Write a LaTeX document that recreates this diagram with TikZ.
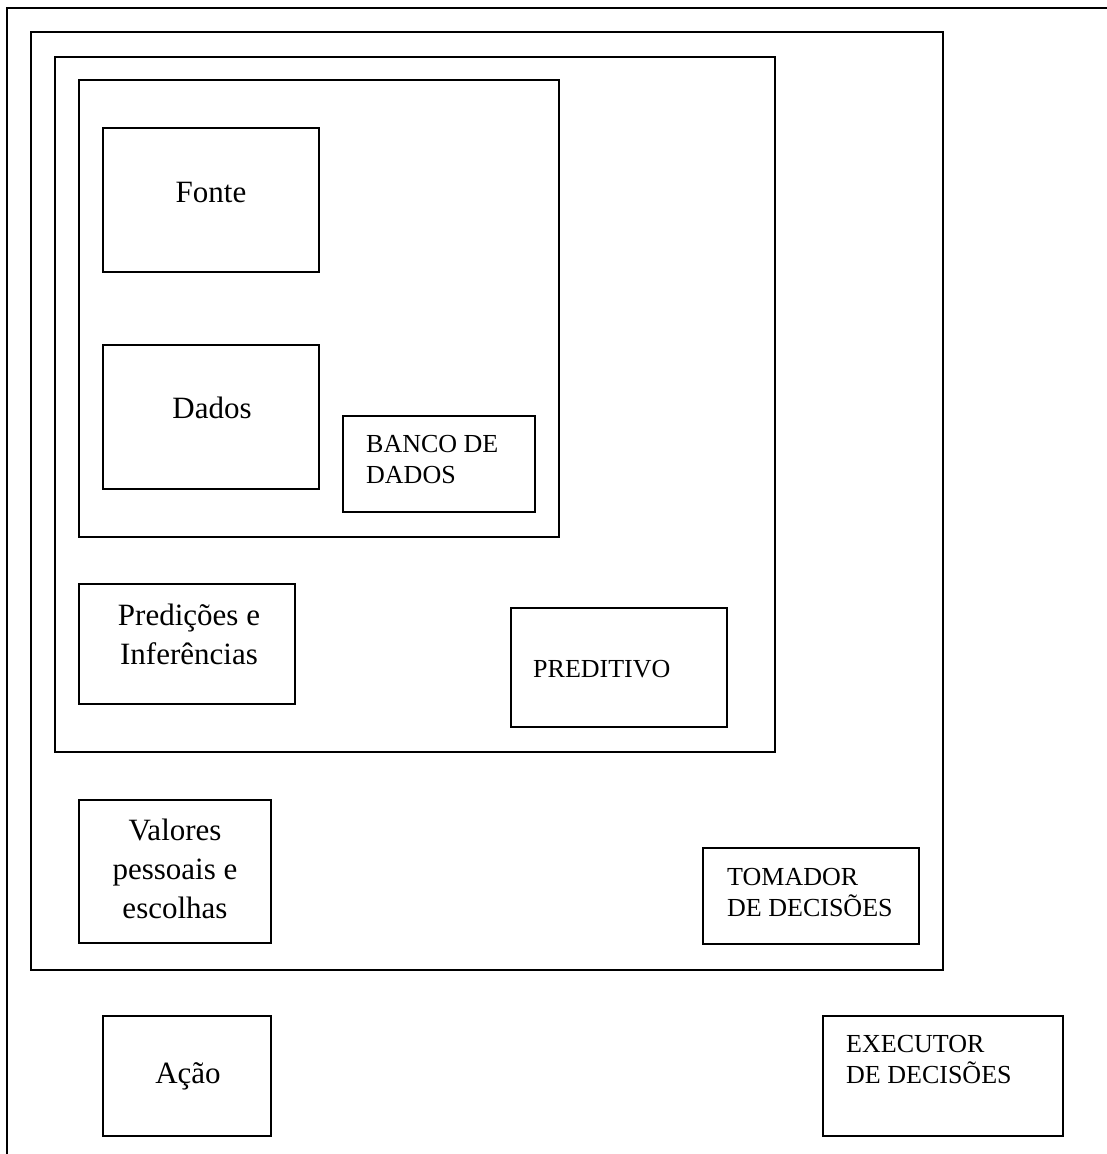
\documentclass[tikz,border=0pt]{standalone}
\usepackage{fontspec}
\setmainfont{Liberation Serif}
\begin{document}
\begin{tikzpicture}[x=1pt,y=-1pt,
  box/.style={draw, line width=2pt, inner sep=0pt, outer sep=0pt},
  big/.style={font=\fontsize{31}{39}\selectfont, inner sep=0pt, align=center},
  small/.style={font=\fontsize{26}{31}\selectfont, inner sep=0pt, align=left},
]
\useasboundingbox (0,0) rectangle (1107,1154);
\clip (0,0) rectangle (1107,1154);

% outermost frame runs off the page on the right and at the bottom
\draw[line width=2pt] (7,1200) -- (7,8) -- (1200,8);

% nested frames
\node[box, minimum width=912pt, minimum height=938pt] (decisao) at (487,501) {};
\node[box, minimum width=720pt, minimum height=695pt] (modelo) at (415,404.5) {};
\node[box, minimum width=480pt, minimum height=457pt] (base) at (319,308.5) {};

% boxes
\node[box, minimum width=216pt, minimum height=144pt] (fonte) at (211,200) {};
\node[box, minimum width=216pt, minimum height=144pt] (dados) at (211,417) {};
\node[box, minimum width=192pt, minimum height=96pt] (banco) at (439,464) {};
\node[box, minimum width=216pt, minimum height=120pt] (predicoes) at (187,644) {};
\node[box, minimum width=216pt, minimum height=119pt] (preditivo) at (619,667.5) {};
\node[box, minimum width=192pt, minimum height=143pt] (valores) at (175,871.5) {};
\node[box, minimum width=216pt, minimum height=96pt] (tomador) at (811,896) {};
\node[box, minimum width=168pt, minimum height=120pt] (acao) at (187,1076) {};
\node[box, minimum width=240pt, minimum height=120pt] (executor) at (943,1076) {};

% labels (multi-line labels sit on the baseline of their last line)
\node[big, anchor=base] (tfonte) at (211,202) {Fonte};
\node[big, anchor=base] (tdados) at (212,418) {Dados};
\node[small, anchor=base west] (tbanco) at (366,483) {BANCO DE\\DADOS};
\node[big, anchor=base] (tpred) at (189,664) {Predições e\\Inferências};
\node[small, anchor=base west] (tpreditivo) at (533,677) {PREDITIVO};
\node[big, anchor=base] (tvalores) at (175,918) {Valores\\pessoais e\\escolhas};
\node[small, anchor=base west] (ttomador) at (727,916) {TOMADOR\\DE DECISÕES};
\node[big, anchor=base] (tacao) at (188,1083) {Ação};
\node[small, anchor=base west] (texecutor) at (846,1083) {EXECUTOR\\DE DECISÕES};
\end{tikzpicture}
\end{document}
